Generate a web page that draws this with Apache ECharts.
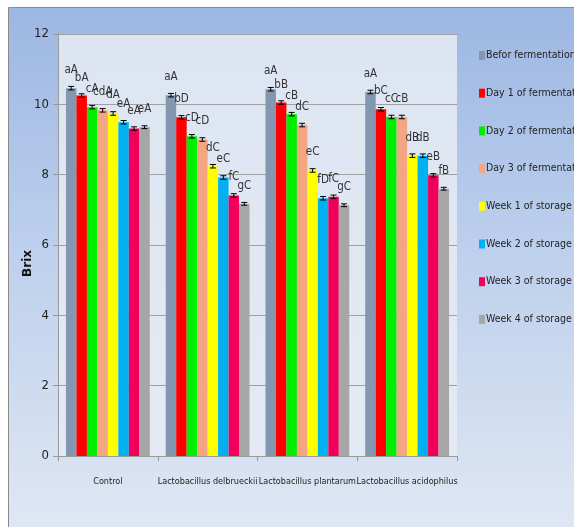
<!DOCTYPE html>
<html><head><meta charset="utf-8">
<script src="https://cdn.jsdelivr.net/npm/echarts@6/dist/echarts.min.js"></script>
<style>html,body{margin:0;padding:0;background:#fff}#c{width:574px;height:527px}</style>
</head><body><div id="c"></div>
<script>
const categories = ['Control','Lactobacillus delbrueckii','Lactobacillus plantarum','Lactobacillus acidophilus'];
const seriesNames = ['Befor fermentation','Day 1 of fermentation','Day 2 of fermentation','Day 3 of fermentation','Week 1 of storage','Week 2 of storage','Week 3 of storage','Week 4 of storage'];
const colors = ['#8497b0','#ff0000','#00ee00','#f4a582','#ffff00','#00b0f0','#f0005a','#a6a6a6'];
const befor = [10.46, 10.26, 10.43, 10.35];
const day1  = [10.25, 9.63, 10.05, 9.86];
const day2  = [9.92, 9.09, 9.72, 9.64];
const day3  = [9.83, 9.00, 9.41, 9.64];
const week1 = [9.74, 8.24, 8.12, 8.54];
const week2 = [9.49, 7.92, 7.33, 8.54];
const week3 = [9.31, 7.41, 7.37, 7.98];
const week4 = [9.35, 7.17, 7.13, 7.60];
const values = [befor, day1, day2, day3, week1, week2, week3, week4];
const errors = [0.05, 0.05, 0.05, 0.05, 0.05, 0.05, 0.05, 0.04];
const letters = [
  ['aA','aA','aA','aA'],
  ['bA','bD','bB','bC'],
  ['cA','cD','cB','cC'],
  ['cdA','cD','dC','cB'],
  ['dA','dC','eC','dB'],
  ['eA','eC','fD','dB'],
  ['eA','fC','fC','eB'],
  ['eA','gC','gC','fB']
];
const yTicks = {min: 0, max: 12, interval: 2};

// font choice and size fitting (styling only)
const cv = document.createElement('canvas').getContext('2d');
function w(txt, fam, size) { cv.font = size + 'px ' + fam; return cv.measureText(txt).width; }
function avail(fam) {
  const s = 'abcdefghijklmnopqrstuvwxyz0123456789';
  return w(s, "'" + fam + "', monospace", 20) !== w(s, 'monospace', 20);
}
const cands = ['Liberation Sans Narrow', 'Arial Narrow', 'DejaVu Sans Condensed', 'Liberation Sans'];
let FAM = 'sans-serif';
for (const c of cands) { if (avail(c)) { FAM = "'" + c + "'"; break; } }
function fit(txt, target, maxSize) {
  const s = 12 * target / w(txt, FAM, 12);
  return Math.min(maxSize, Math.round(s * 10) / 10);
}
const xLabSize = fit('Lactobacillus delbrueckii', 100, 13);
const legSize = Math.max(10.5, fit('Befor fermentation', 80, 12));

const chart = echarts.init(document.getElementById('c'));
const series = [];
values.forEach((vals, s) => {
  series.push({
    name: seriesNames[s], type: 'bar', data: vals, barGap: '0%', barCategoryGap: '16%',
    itemStyle: {color: colors[s]},
    label: {show: true, position: 'top', distance: 12, color: '#333', fontFamily: FAM, fontSize: 11.5,
      formatter: p => letters[s][p.dataIndex]},
    z: 2
  });
});
values.forEach((vals, s) => {
  series.push({
    type: 'custom', name: seriesNames[s] + ' err', silent: true, z: 5,
    data: vals.map((v, i) => [i, v, errors[s]]),
    renderItem: (params, api) => {
      const i = api.value(0), v = api.value(1), e = api.value(2);
      const center = api.coord([i, v]);
      const catW = api.size([1, 0])[0];
      const bw = catW * 0.84 / 8;
      const x = center[0] + (s - 3.5) * bw;
      const yHi = api.coord([i, v + e])[1];
      const yLo = api.coord([i, v - e])[1];
      const cap = 3;
      const st = {stroke: '#000', lineWidth: 1};
      return {type: 'group', children: [
        {type: 'line', shape: {x1: x, y1: yHi, x2: x, y2: yLo}, style: st},
        {type: 'line', shape: {x1: x - cap, y1: yHi, x2: x + cap, y2: yHi}, style: st},
        {type: 'line', shape: {x1: x - cap, y1: yLo, x2: x + cap, y2: yLo}, style: st}
      ]};
    }
  });
});

chart.setOption({
  animation: false,
  backgroundColor: '#ffffff',
  graphic: [
    {type: 'rect', z: -10, shape: {x: 8.5, y: 7.5, width: 570, height: 522},
      style: {stroke: '#8a8a8a', lineWidth: 1,
        fill: new echarts.graphic.LinearGradient(0, 0, 0, 1, [
          {offset: 0, color: '#9cb7e3'}, {offset: 0.45, color: '#bccfec'}, {offset: 1, color: '#dfe7f3'}])}},
    {type: 'text', left: 22, top: 250, rotation: Math.PI / 2, z: 10,
      style: {text: 'Brix', fontFamily: 'DejaVu Sans', fontWeight: 'bold', fontSize: 12, fill: '#111'}}
  ],
  grid: {left: 58, top: 34, right: 117, bottom: 71, show: true, borderWidth: 0,
    backgroundColor: new echarts.graphic.LinearGradient(0, 0, 0, 1, [
      {offset: 0, color: '#dde5f2'}, {offset: 1, color: '#e4eaf5'}])},
  legend: {orient: 'vertical', left: 474, top: 45, itemGap: 26.7, itemWidth: 6, itemHeight: 9,
    icon: 'rect', data: seriesNames,
    textStyle: {fontFamily: FAM, fontSize: legSize, color: '#222', padding: [0, 0, 0, -4]}},
  xAxis: {type: 'category', data: categories,
    axisLine: {lineStyle: {color: '#999'}},
    axisTick: {show: true, length: 5, lineStyle: {color: '#999'}},
    axisLabel: {fontFamily: FAM, fontSize: xLabSize, color: '#222', margin: 21, interval: 0}},
  yAxis: {type: 'value', min: yTicks.min, max: yTicks.max, interval: yTicks.interval,
    axisLine: {show: true, lineStyle: {color: '#999'}},
    axisTick: {show: true, length: 5, lineStyle: {color: '#999'}},
    splitLine: {lineStyle: {color: '#a0a0a0', width: 1}},
    axisLabel: {fontFamily: FAM, fontSize: 13, color: '#222', margin: 9}},
  series: series
});
</script></body></html>
